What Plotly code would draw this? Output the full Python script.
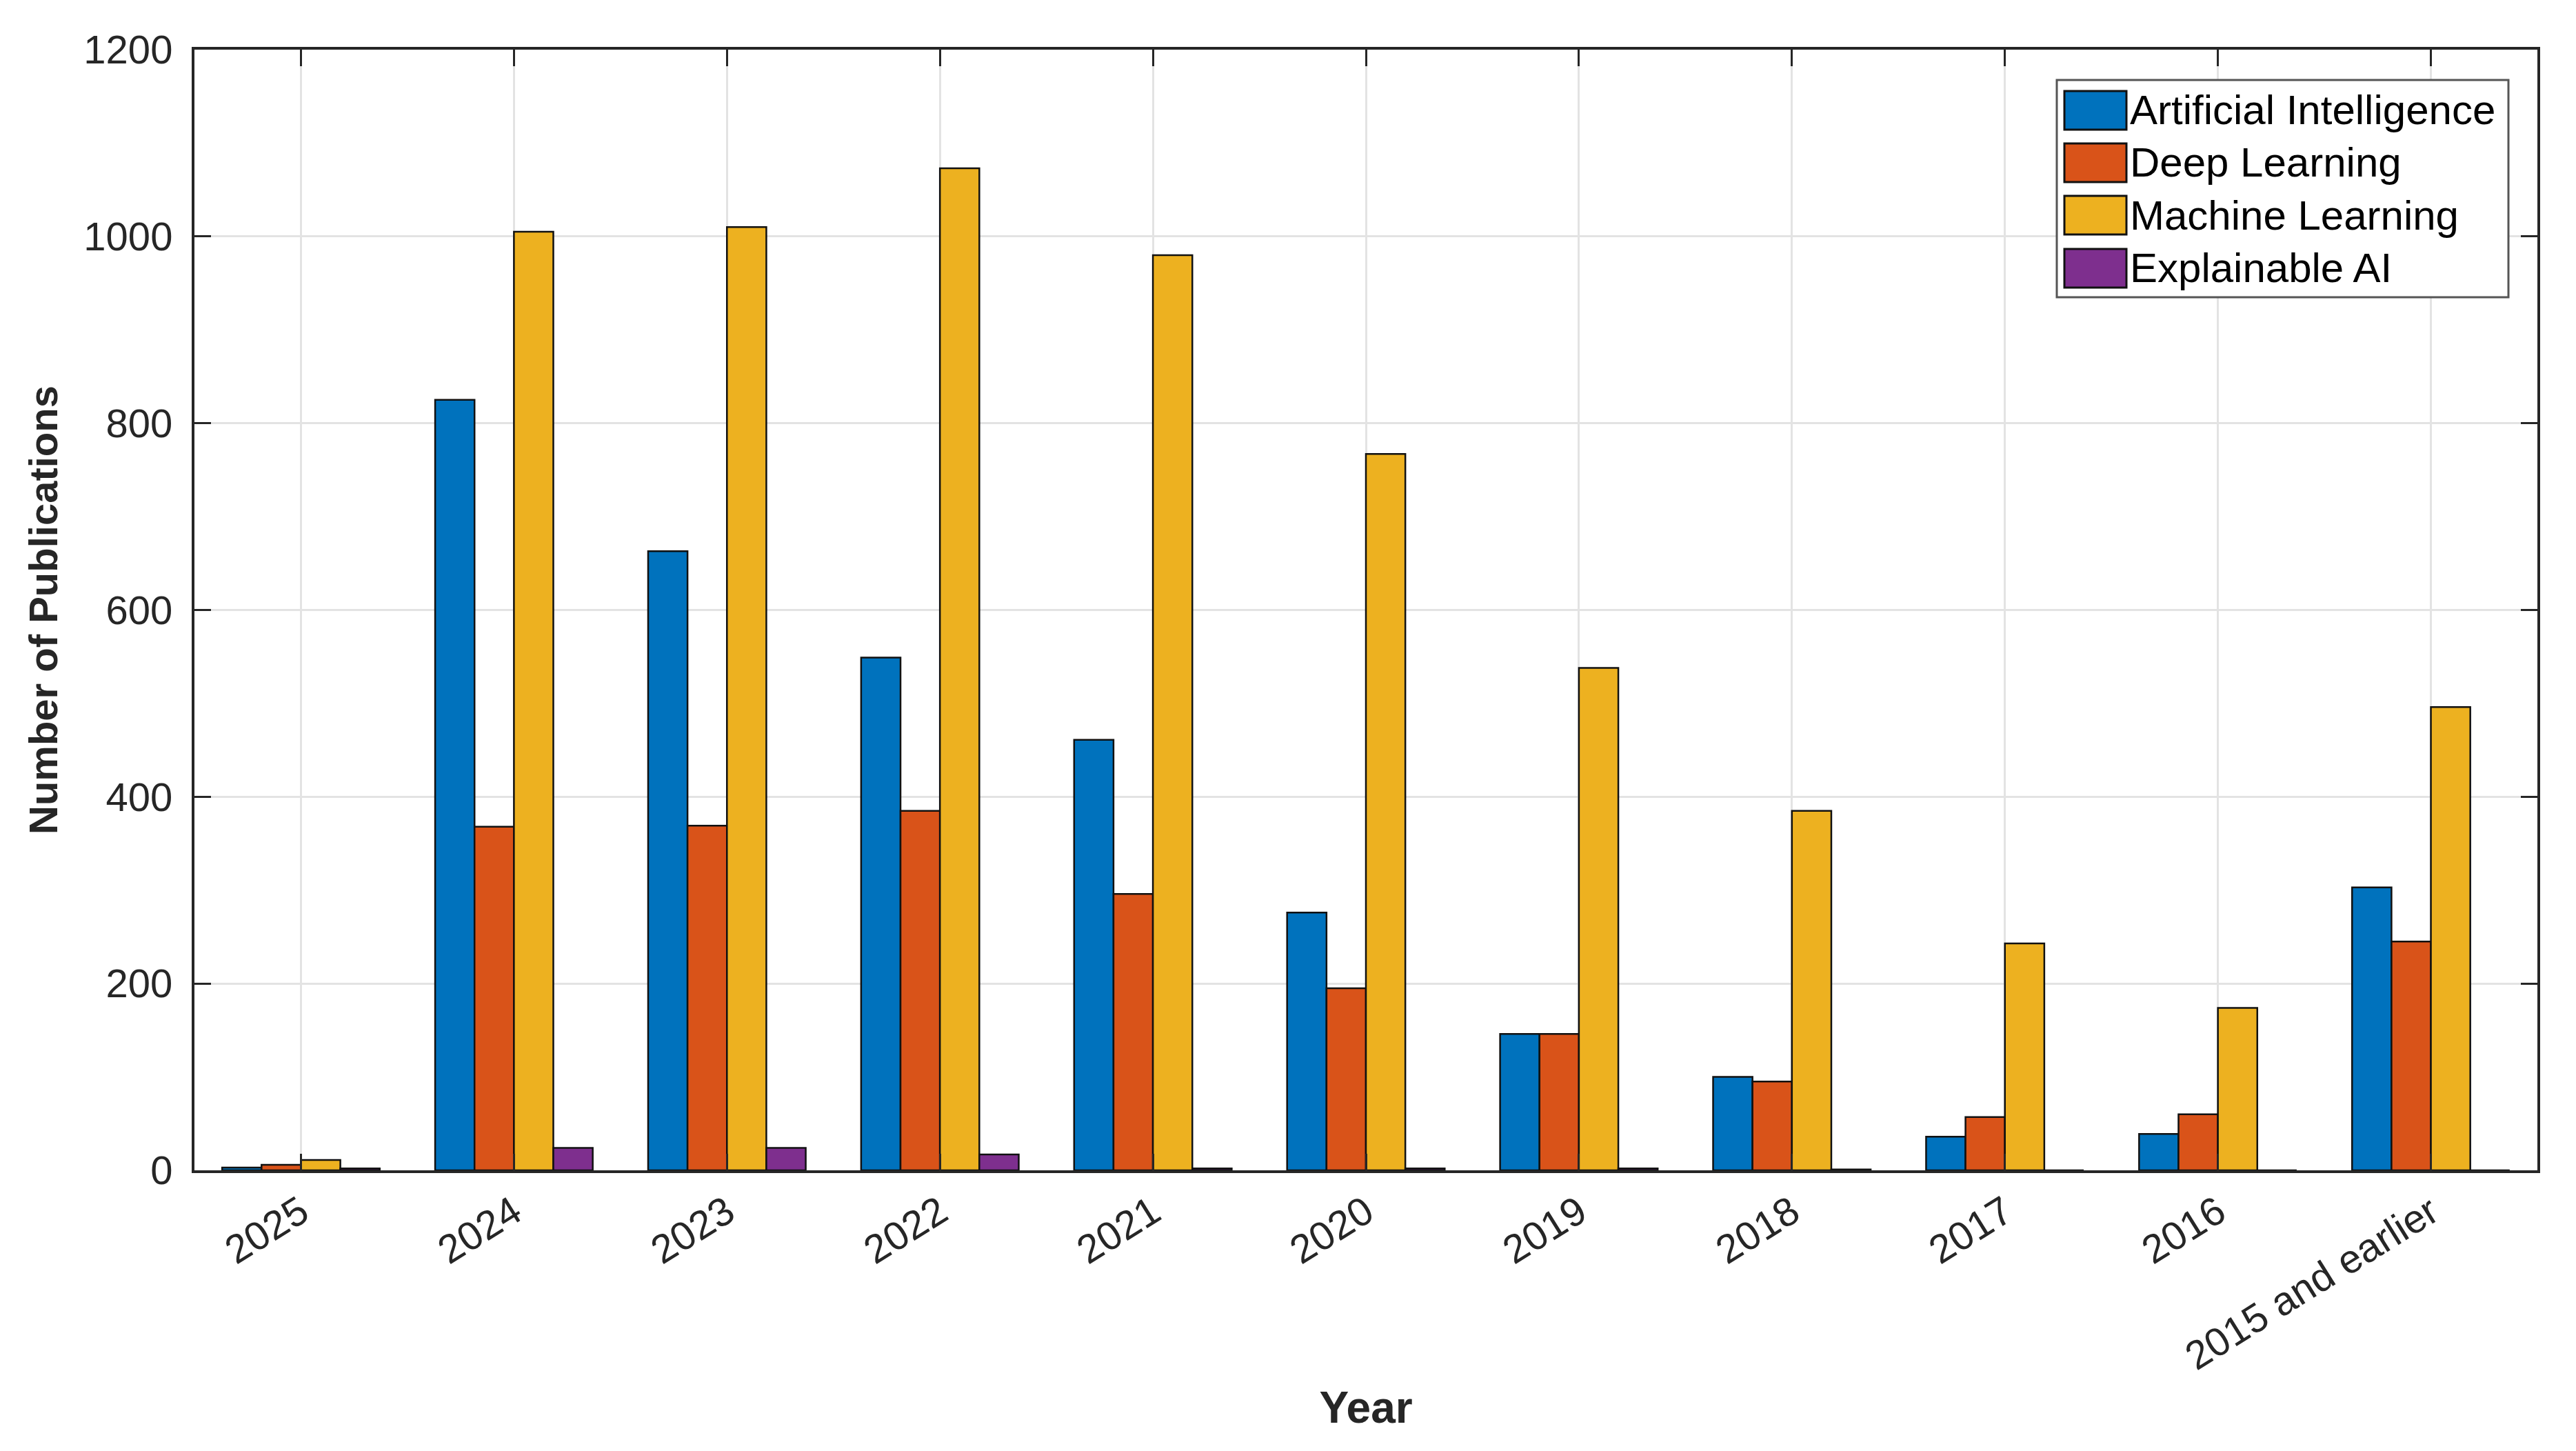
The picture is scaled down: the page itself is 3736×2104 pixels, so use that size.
import plotly.graph_objects as go

years = ["2025", "2024", "2023", "2022", "2021", "2020", "2019", "2018", "2017", "2016", "2015 and earlier"]
artificial_intelligence = [3, 825, 663, 549, 461, 276, 146, 100, 36, 39, 303]
deep_learning = [6, 368, 369, 385, 296, 195, 146, 95, 57, 60, 245]
machine_learning = [11, 1005, 1010, 1073, 980, 767, 538, 385, 243, 174, 496]
explainable_ai = [2, 24, 24, 17, 2, 2, 2, 1, 0, 0, 0]

series_names = ["Artificial Intelligence", "Deep Learning", "Machine Learning", "Explainable AI"]
series_values = [artificial_intelligence, deep_learning, machine_learning, explainable_ai]
series_colors = ["#0072BD", "#D95319", "#EDB120", "#7E2F8E"]

FONT = "Liberation Sans, Arial, sans-serif"

W, H = 3736, 2104
ML, MR, MT, MB = 274, 64, 64, 415
PW, PH = W - ML - MR, H - MT - MB


def px2x(px):
    return (px - ML) / PW


def px2y(py):
    return (H - MB - py) / PH


fig = go.Figure()
for name, vals, col in zip(series_names, series_values, series_colors):
    fig.add_trace(go.Bar(
        x=years, y=vals, name=name, showlegend=False,
        marker=dict(color=col, line=dict(color="#111111", width=2.5)),
    ))

# custom legend (box, swatches, labels)
shapes = [dict(type="rect", xref="paper", yref="paper",
               x0=px2x(2975), x1=px2x(3630), y0=px2y(423), y1=px2y(108),
               fillcolor="white", line=dict(color="#555555", width=3), layer="above")]
annotations = []
row_centers = [152, 228, 304, 381]
for name, col, cy in zip(series_names, series_colors, row_centers):
    shapes.append(dict(type="rect", xref="paper", yref="paper",
                       x0=px2x(2986), x1=px2x(3076), y0=px2y(cy + 28), y1=px2y(cy - 28),
                       fillcolor=col, line=dict(color="#111111", width=3), layer="above"))
    annotations.append(dict(xref="paper", yref="paper", x=px2x(3079), y=px2y(cy),
                            xanchor="left", yanchor="middle", showarrow=False, text=name,
                            font=dict(family=FONT, size=60, color="#000000")))

fig.update_layout(
    width=W, height=H,
    paper_bgcolor="white", plot_bgcolor="white",
    margin=dict(l=ML, r=MR, t=MT, b=MB),
    barmode="group", bargap=0.26, bargroupgap=0,
    font=dict(family=FONT, size=58, color="#262626"),
    showlegend=False,
    shapes=shapes, annotations=annotations,
)

fig.update_xaxes(
    type="category", categoryorder="array", categoryarray=years,
    showline=True, linecolor="#262626", linewidth=4, mirror="ticks",
    ticks="inside", ticklen=24, tickwidth=3, tickcolor="#262626",
    showgrid=True, gridcolor="#e3e3e3", gridwidth=3,
    tickangle=-32, tickfont=dict(family=FONT, size=58, color="#262626"),
    title=dict(text="<b>Year</b>", font=dict(family=FONT, size=64, color="#262626"), standoff=22),
    automargin=False,
)
fig.update_yaxes(
    range=[0, 1200], tickvals=[0, 200, 400, 600, 800, 1000, 1200],
    showline=True, linecolor="#262626", linewidth=4, mirror="ticks",
    ticks="inside", ticklen=24, tickwidth=3, tickcolor="#262626",
    showgrid=True, gridcolor="#e3e3e3", gridwidth=3, zeroline=False,
    ticklabelstandoff=16,
    tickfont=dict(family=FONT, size=58, color="#262626"),
    title=dict(text="<b>Number of Publications</b>", font=dict(family=FONT, size=58, color="#262626"), standoff=20),
    automargin=False,
)

fig.write_html("out.html")
